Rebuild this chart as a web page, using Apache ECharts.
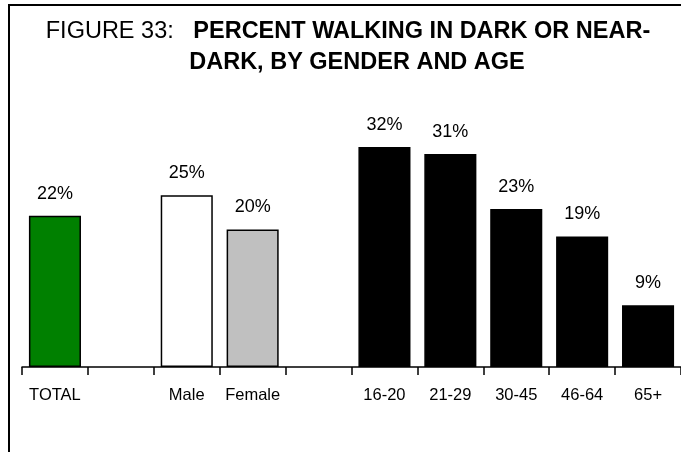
<!DOCTYPE html>
<html>
<head>
<meta charset="utf-8">
<script src="https://cdn.jsdelivr.net/npm/echarts@6/dist/echarts.min.js"></script>
<style>
html,body{margin:0;padding:0;background:#fff;}
#chart{width:681px;height:452px;}
</style>
</head>
<body>
<div id="chart"></div>
<script>
var categories = ['TOTAL', '', 'Male', 'Female', '', '16-20', '21-29', '30-45', '46-64', '65+'];
var values = [22, null, 25, 20, null, 32, 31, 23, 19, 9];
var barColors = ['#008000', '#ffffff', '#ffffff', '#c0c0c0', '#ffffff', '#000000', '#000000', '#000000', '#000000', '#000000'];
var titleLine1Normal = 'FIGURE 33:   ';
var titleLine1Bold = 'PERCENT WALKING IN DARK OR NEAR-';
var titleLine2Bold = 'DARK, BY GENDER AND AGE';

var chart = echarts.init(document.getElementById('chart'), null, {renderer: 'canvas'});
var sans = "'Liberation Sans', Arial, sans-serif";

var data = values.map(function (v, i) {
  if (v === null) return '-';
  return {value: v, itemStyle: {color: barColors[i]}};
});

chart.setOption({
  animation: false,
  backgroundColor: '#ffffff',
  graphic: [
    {
      type: 'rect',
      shape: {x: 9, y: 5, width: 700, height: 470},
      style: {fill: 'none', stroke: '#000', lineWidth: 2},
      silent: true
    },
    {
      type: 'text',
      x: 348, y: 20,
      style: {
        text: '{n|' + titleLine1Normal + '}{b|' + titleLine1Bold + '}',
        textAlign: 'center',
        rich: {
          n: {fontFamily: sans, fontSize: 23.5, fontWeight: 'normal', fill: '#000'},
          b: {fontFamily: sans, fontSize: 23.5, fontWeight: 'bold', fill: '#000'}
        }
      }
    },
    {
      type: 'text',
      x: 357, y: 51,
      style: {
        text: titleLine2Bold,
        textAlign: 'center',
        fontFamily: sans, fontSize: 23.5, fontWeight: 'bold', fill: '#000'
      }
    }
  ],
  grid: {left: 22, right: -2, top: 92, bottom: 85, containLabel: false},
  xAxis: {
    type: 'category',
    data: categories,
    boundaryGap: true,
    axisLine: {lineStyle: {color: '#000', width: 1.5}},
    axisTick: {show: true, length: 8, alignWithLabel: false, interval: 0, lineStyle: {color: '#000', width: 1.5}},
    axisLabel: {interval: 0, margin: 20, color: '#000', fontFamily: sans, fontSize: 16.5}
  },
  yAxis: {
    type: 'value',
    min: 0, max: 40,
    show: false,
    splitLine: {show: false}
  },
  series: [{
    type: 'bar',
    data: data,
    barCategoryGap: '21%',
    itemStyle: {borderColor: '#000', borderWidth: 1.5},
    label: {
      show: true,
      position: 'top',
      distance: 13,
      formatter: '{c}%',
      color: '#000',
      fontFamily: sans,
      fontSize: 18
    }
  }]
});
</script>
</body>
</html>
